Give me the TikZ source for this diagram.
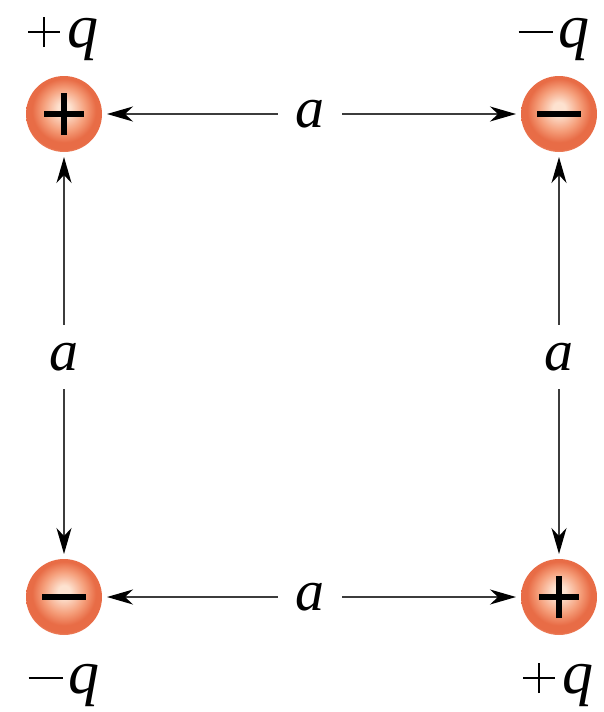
\documentclass[tikz,border=0pt]{standalone}
\usepackage{fontspec}
\setmainfont{Liberation Serif}
\usetikzlibrary{arrows.meta}
\definecolor{hl}{HTML}{FDE2D0}
\definecolor{midc}{HTML}{F59E7A}
\definecolor{edgec}{HTML}{E86C46}
\definecolor{rimc}{HTML}{F09A7C}
\definecolor{linec}{HTML}{3C3C3C}
\pgfdeclareradialshading{chargeshade}{\pgfpoint{0bp}{4bp}}{%
  color(0bp)=(hl); color(4bp)=(hl); color(14bp)=(midc); color(21bp)=(edgec);
  color(25.5bp)=(edgec); color(28bp)=(rimc); color(50bp)=(rimc)}
\newcommand{\pl}{\makebox[32pt][l]{\rule[13.7pt]{32pt}{2.6pt}\hspace{-17.3pt}\rule{2.6pt}{30pt}}\hspace{7pt}}
\newcommand{\mi}{\rule[13.7pt]{34pt}{2.6pt}\hspace{6pt}}
\tikzset{
  charge/.style={circle, minimum size=76pt, inner sep=0pt, outer sep=5pt, shading=chargeshade},
  sign/.style={line width=6.5pt, black},
  dist/.style={font=\fontsize{58}{60}\selectfont\itshape, inner sep=0pt, minimum width=64pt, minimum height=64pt},
  qlab/.style={font=\fontsize{62}{62}\selectfont, inner sep=0pt, anchor=base},
  arr/.style={line width=1.7pt, linec, -{Stealth[length=26pt,width=15pt,inset=8pt,black]}}
}
\begin{document}
\begin{tikzpicture}[x=1pt,y=-1pt]
\useasboundingbox (0,0) rectangle (603,712);
\node[charge] (tl) at (64,114) {};
\node[charge] (tr) at (559,114) {};
\node[charge] (bl) at (64,597) {};
\node[charge] (br) at (559,597) {};
% signs
\draw[sign] ([xshift=-20pt]tl.center) -- ([xshift=20pt]tl.center);
\draw[sign] ([yshift=-21pt]tl.center) -- ([yshift=21pt]tl.center);
\draw[sign] ([xshift=-20pt]br.center) -- ([xshift=20pt]br.center);
\draw[sign] ([yshift=-21pt]br.center) -- ([yshift=21pt]br.center);
\draw[sign] ([xshift=-22pt]tr.center) -- ([xshift=22pt]tr.center);
\draw[sign] ([xshift=-22pt]bl.center) -- ([xshift=22pt]bl.center);
% charge labels
\node[qlab] (qtl) at (63,47) {\pl\textit{q}};
\node[qlab] (qtr) at (554,47) {\mi\textit{q}};
\node[qlab] (qbl) at (64,693) {\mi\textit{q}};
\node[qlab] (qbr) at (558,693) {\pl\textit{q}};
% distance labels
\node[dist] (atop) at (310,114) {a};
\node[dist] (abot) at (310,597) {a};
\node[dist] (aleft) at (64,357) {a};
\node[dist] (aright) at (559,357) {a};
% arrows
\draw[arr] (atop) -- (tl);
\draw[arr] (atop) -- (tr);
\draw[arr] (abot) -- (bl);
\draw[arr] (abot) -- (br);
\draw[arr] (aleft) -- (tl);
\draw[arr] (aleft) -- (bl);
\draw[arr] (aright) -- (tr);
\draw[arr] (aright) -- (br);
\end{tikzpicture}
\end{document}
